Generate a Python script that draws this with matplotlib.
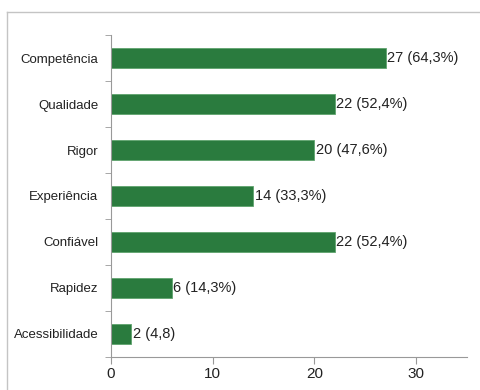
import matplotlib
matplotlib.use("Agg")
import matplotlib.pyplot as plt
from matplotlib.lines import Line2D
import numpy as np

categories = ["Competência", "Qualidade", "Rigor", "Experiência", "Confiável", "Rapidez", "Acessibilidade"]
values = [27, 22, 20, 14, 22, 6, 2]
labels = ["27 (64,3%)", "22 (52,4%)", "20 (47,6%)", "14 (33,3%)", "22 (52,4%)", "6 (14,3%)", "2 (4,8)"]
xticks = [0, 10, 20, 30]

plt.rcParams['font.family'] = ['Liberation Sans', 'DejaVu Sans']

fig = plt.figure(figsize=(4.8, 3.9), dpi=100)
ax = fig.add_axes([0.231, 0.085, 0.742, 0.825])

n = len(categories)
y = np.arange(n)[::-1]
color = '#2a7b3e'
ax.barh(y, values, height=0.44, color=color, edgecolor='#5fa36e', linewidth=0.6)
for yi, v, lab in zip(y, values, labels):
    ax.text(v + 0.15, yi, lab, va='center', ha='left', fontsize=10.5, color='#222222')

ax.set_ylim(-0.5, n - 0.5)
ax.set_xlim(0, 35)
ax.set_yticks(y)
ax.set_yticklabels(categories, fontsize=9.5, color='#222222')
ax.tick_params(axis='y', length=0, pad=9)
ax.set_yticks(np.arange(-0.5, n, 1.0), minor=True)
ax.tick_params(axis='y', which='minor', length=4, color='#999999', direction='out')
ax.set_xticks(xticks)
ax.tick_params(axis='x', length=5, color='#999999', labelsize=11, pad=2, labelcolor='#222222')

for s in ['top', 'right']:
    ax.spines[s].set_visible(False)
for s in ['left', 'bottom']:
    ax.spines[s].set_color('#999999')
    ax.spines[s].set_linewidth(0.8)

# frame lines
fig.add_artist(Line2D([7/480, 1.0], [1 - 12/390, 1 - 12/390], color='#c4c4c4', lw=1.0))
fig.add_artist(Line2D([7/480, 7/480], [0.0, 1 - 12/390], color='#c4c4c4', lw=1.0))

fig.savefig("out.png", dpi=100)
